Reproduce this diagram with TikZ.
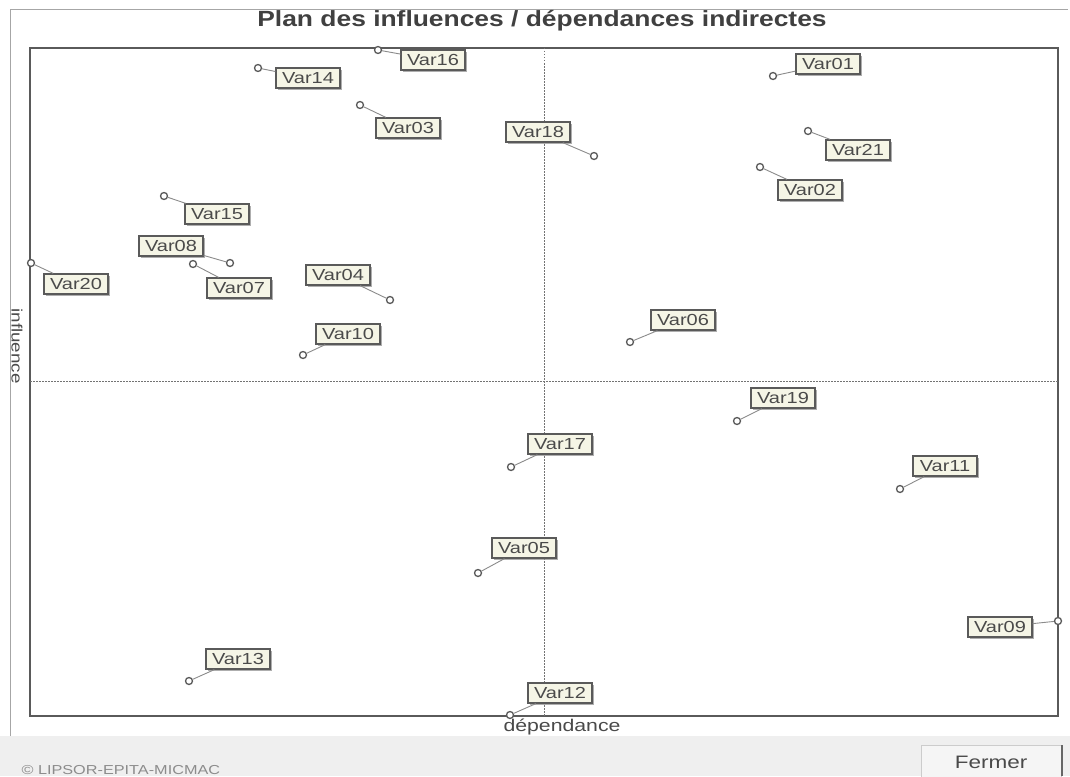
\documentclass[tikz,border=0pt]{standalone}
\usepackage{fontspec}
\setmainfont{Liberation Sans}
\newfontfamily\widefont[FakeStretch=1.25]{Liberation Sans}
\newfontfamily\titlefont[FakeStretch=1.2]{Liberation Sans}
\usetikzlibrary{shadows}
\definecolor{framegray}{HTML}{5A5A5A}
\definecolor{labfill}{HTML}{F5F5E6}
\definecolor{txtgray}{HTML}{4A4A4A}
\definecolor{bandgray}{HTML}{EFEFEF}
\tikzset{
  varlab/.style={draw=framegray, line width=1.3pt, fill=labfill, inner sep=2pt,
    minimum height=20pt, minimum width=64pt, text=txtgray, font=\widefont\fontsize{16}{16}\selectfont,
    drop shadow={shadow xshift=2pt, shadow yshift=-2pt, fill=black!45, opacity=0.7}},
  vardot/.style={circle, draw=framegray, line width=1.3pt, fill=white, inner sep=0pt, minimum size=7pt},
  stub/.style={draw=framegray!70, line width=0.9pt},
  guide/.style={draw=black!55, dash pattern=on 1.5pt off 1.5pt, line width=0.6pt}
}
\begin{document}
\begin{tikzpicture}[x=1pt,y=-1pt]
\useasboundingbox (0,0) rectangle (1070,776);
\fill[white] (0,0) rectangle (1070,776);
% window band
\fill[bandgray] (0,736) rectangle (1070,776);
\draw[black!35, line width=0.8pt] (10,736) -- (10,9) -- (1068,9);
% Fermer button
\node[draw=black!20, fill=bandgray!60, minimum width=140pt, minimum height=34pt, text=txtgray, font=\widefont\fontsize{18}{18}\selectfont] (fermer) at (991,762) {Fermer};
\draw[black!60, line width=1.2pt] (1062,745) -- (1062,776);
\node[anchor=west, text=black!45, font=\widefont\fontsize{13}{13}\selectfont] (copy) at (18,770) {© LIPSOR-EPITA-MICMAC};
% title
\node[font=\titlefont\bfseries\fontsize{22}{22}\selectfont, text=black!75] (title) at (542,21) {Plan des influences / dépendances indirectes};
% plot frame
\draw[framegray, line width=1.4pt] (30,48) rectangle (1058,716);
\coordinate (xt) at (544,48); \coordinate (xb) at (544,716);
\coordinate (yl) at (30,381); \coordinate (yr) at (1058,381);
\draw[guide] (xt) -- (xb);
\draw[guide] (yl) -- (yr);
% axis labels
\node[text=txtgray, font=\widefont\fontsize{17}{17}\selectfont] (dep) at (562,727) {dépendance};
\node[rotate=-90, text=txtgray, font=\widefont\fontsize{15}{15}\selectfont] (inf) at (17,346) {influence};
% variables: dot position, label position, name
\foreach \n/\dx/\dy/\lx/\ly in {
 16/378/50/433/60,
 14/258/68/308/78,
 03/360/105/408/128,
 18/594/156/538/132,
 01/773/76/828/64,
 21/808/131/858/150,
 02/760/167/810/190,
 15/164/196/217/214,
 08/230/263/171/246,
 07/193/264/239/288,
 20/31/263/76/284,
 04/390/300/338/275,
 10/303/355/348/334,
 06/630/342/683/320,
 19/737/421/783/398,
 17/511/467/560/444,
 11/900/489/945/466,
 05/478/573/524/548,
 09/1058/621/1000/627,
 13/189/681/238/659,
 12/510/715/560/693}{
  \node[vardot] (d\n) at (\dx,\dy) {};
  \node[varlab] (l\n) at (\lx,\ly) {Var\n};
  \draw[stub] (d\n) -- (l\n);
}
\end{tikzpicture}
\end{document}
